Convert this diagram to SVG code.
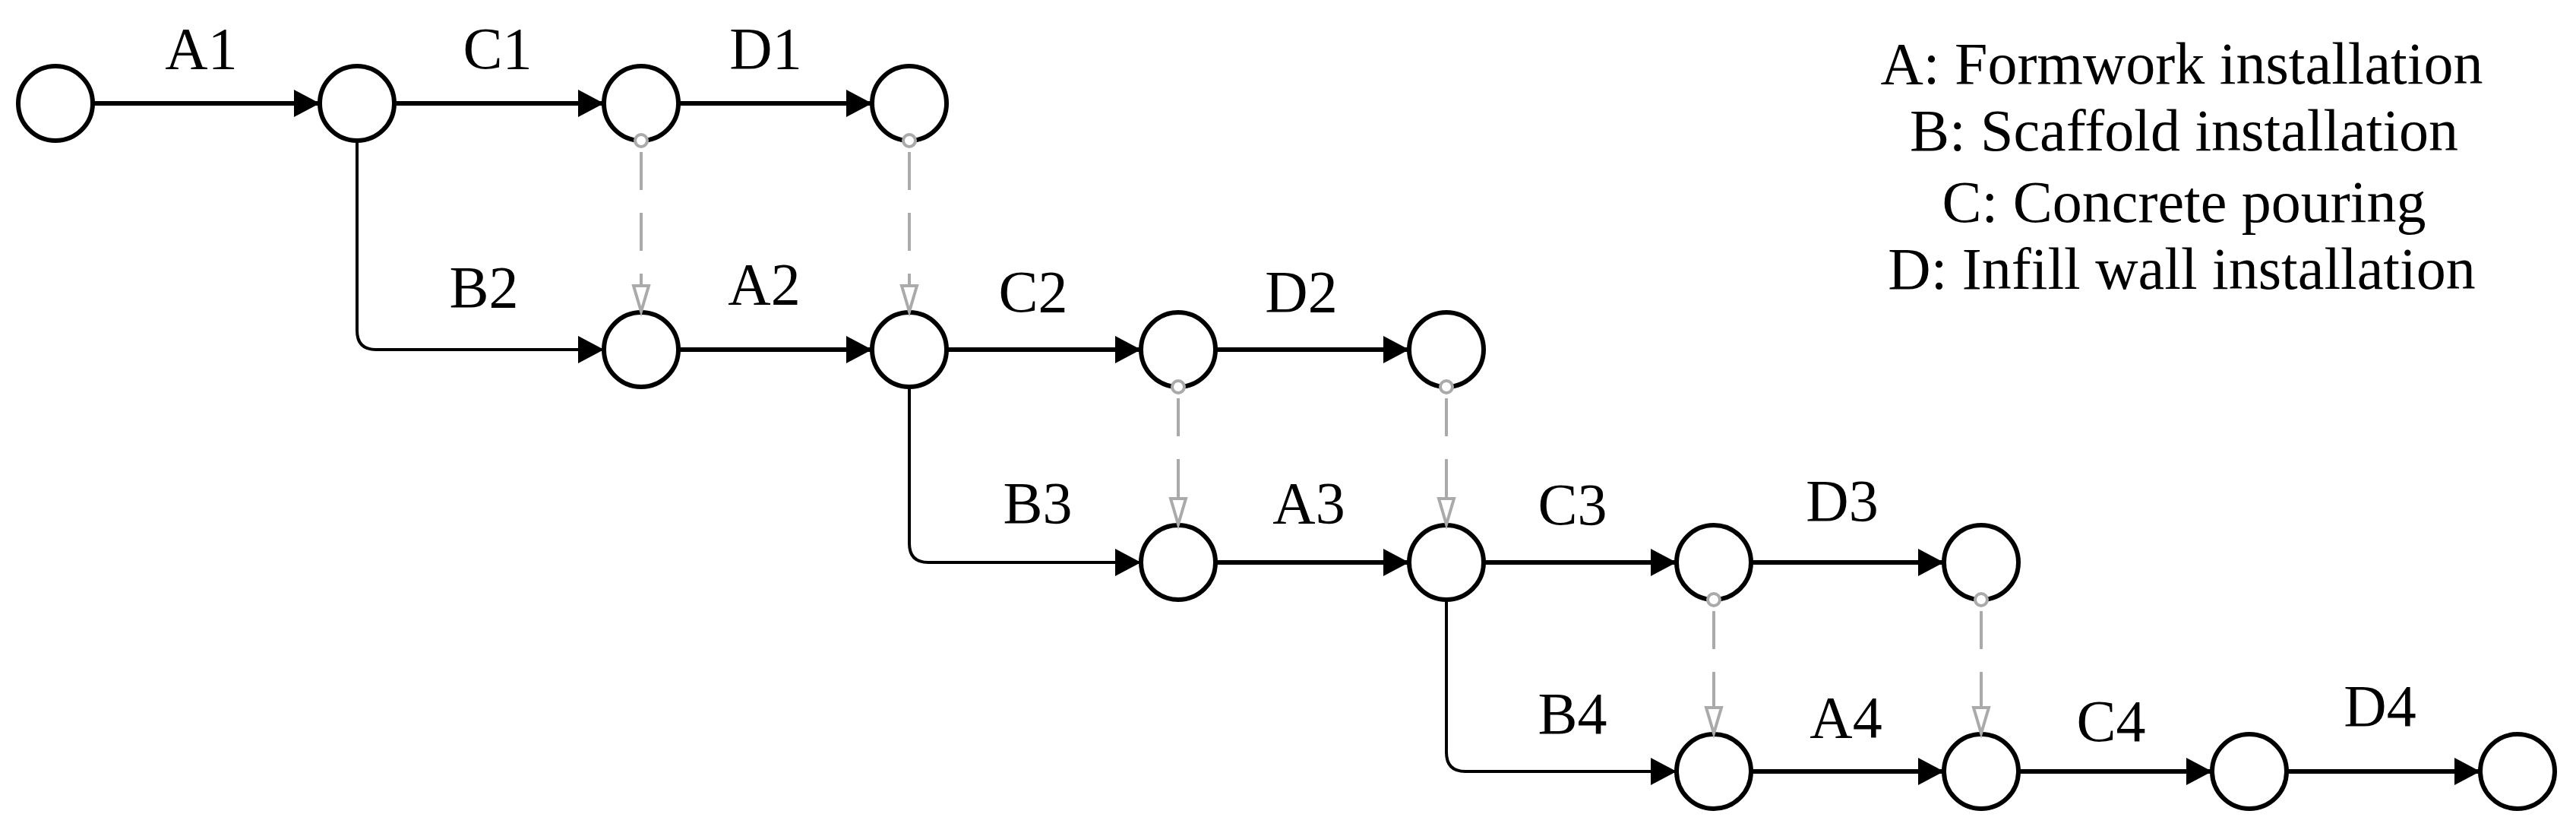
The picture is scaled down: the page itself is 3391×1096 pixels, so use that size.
<svg xmlns="http://www.w3.org/2000/svg" width="3391" height="1096" viewBox="0 0 3391 1096">
<style>
.n{fill:#fff;stroke:#000;stroke-width:6}
.e{stroke:#000;stroke-width:6;fill:none}
.b{stroke:#000;stroke-width:4;fill:none}
.d{stroke:#aaa;stroke-width:4;fill:none;stroke-dasharray:50,30}
.dc{fill:#fff;stroke:#aaa;stroke-width:4}
.dt{fill:#fff;stroke:#aaa;stroke-width:4}
text{font-family:"Liberation Serif","Times New Roman",serif;font-size:78px;fill:#000;text-anchor:middle}
</style>
<defs>
<marker id="ah" markerUnits="userSpaceOnUse" markerWidth="40" markerHeight="40" refX="34" refY="18" orient="auto"><path d="M0,0 L34,18 L0,36 Z" fill="#000"/></marker>
</defs>
<g id="connectors">
<line class="e" x1="122" y1="136" x2="421" y2="136" marker-end="url(#ah)"/>
<line class="e" x1="519" y1="136" x2="795" y2="136" marker-end="url(#ah)"/>
<line class="e" x1="893" y1="136" x2="1148" y2="136" marker-end="url(#ah)"/>
<path class="b" d="M470,185 V435 Q470,460 495,460 H795" marker-end="url(#ah)"/>
<line class="e" x1="893" y1="460" x2="1148" y2="460" marker-end="url(#ah)"/>
<line class="e" x1="1246" y1="460" x2="1502" y2="460" marker-end="url(#ah)"/>
<line class="e" x1="1600" y1="460" x2="1855" y2="460" marker-end="url(#ah)"/>
<path class="b" d="M1197,509 V715 Q1197,740 1222,740 H1502" marker-end="url(#ah)"/>
<line class="e" x1="1600" y1="740" x2="1855" y2="740" marker-end="url(#ah)"/>
<line class="e" x1="1953" y1="740" x2="2207" y2="740" marker-end="url(#ah)"/>
<line class="e" x1="2305" y1="740" x2="2559" y2="740" marker-end="url(#ah)"/>
<path class="b" d="M1904,789 V990 Q1904,1015 1929,1015 H2207" marker-end="url(#ah)"/>
<line class="e" x1="2305" y1="1015" x2="2559" y2="1015" marker-end="url(#ah)"/>
<line class="e" x1="2657" y1="1015" x2="2912" y2="1015" marker-end="url(#ah)"/>
<line class="e" x1="3010" y1="1015" x2="3265" y2="1015" marker-end="url(#ah)"/>
</g>
<g id="nodes">
<circle id="n1" class="n" cx="73" cy="136" r="49"/>
<circle id="n2" class="n" cx="470" cy="136" r="49"/>
<circle id="n3" class="n" cx="844" cy="136" r="49"/>
<circle id="n4" class="n" cx="1197" cy="136" r="49"/>
<circle id="n5" class="n" cx="844" cy="460" r="49"/>
<circle id="n6" class="n" cx="1197" cy="460" r="49"/>
<circle id="n7" class="n" cx="1551" cy="460" r="49"/>
<circle id="n8" class="n" cx="1904" cy="460" r="49"/>
<circle id="n9" class="n" cx="1551" cy="740" r="49"/>
<circle id="n10" class="n" cx="1904" cy="740" r="49"/>
<circle id="n11" class="n" cx="2256" cy="740" r="49"/>
<circle id="n12" class="n" cx="2608" cy="740" r="49"/>
<circle id="n13" class="n" cx="2256" cy="1015" r="49"/>
<circle id="n14" class="n" cx="2608" cy="1015" r="49"/>
<circle id="n15" class="n" cx="2961" cy="1015" r="49"/>
<circle id="n16" class="n" cx="3314" cy="1015" r="49"/>
</g>
<g id="dashed">
<g id="dd1"><line class="d" x1="844" y1="200" x2="844" y2="376"/><circle class="dc" cx="844" cy="185" r="8"/><path class="dt" d="M834,376 L854,376 L844,410 Z"/></g>
<g id="dd2"><line class="d" x1="1197" y1="200" x2="1197" y2="376"/><circle class="dc" cx="1197" cy="185" r="8"/><path class="dt" d="M1187,376 L1207,376 L1197,410 Z"/></g>
<g id="dd3"><line class="d" x1="1551" y1="524" x2="1551" y2="656"/><circle class="dc" cx="1551" cy="509" r="8"/><path class="dt" d="M1541,656 L1561,656 L1551,690 Z"/></g>
<g id="dd4"><line class="d" x1="1904" y1="524" x2="1904" y2="656"/><circle class="dc" cx="1904" cy="509" r="8"/><path class="dt" d="M1894,656 L1914,656 L1904,690 Z"/></g>
<g id="dd5"><line class="d" x1="2256" y1="804" x2="2256" y2="931"/><circle class="dc" cx="2256" cy="789" r="8"/><path class="dt" d="M2246,931 L2266,931 L2256,965 Z"/></g>
<g id="dd6"><line class="d" x1="2608" y1="804" x2="2608" y2="931"/><circle class="dc" cx="2608" cy="789" r="8"/><path class="dt" d="M2598,931 L2618,931 L2608,965 Z"/></g>
</g>
<g id="labels">
<text x="265" y="90">A1</text>
<text x="655" y="90">C1</text>
<text x="1008" y="90">D1</text>
<text x="637" y="404">B2</text>
<text x="1006" y="400">A2</text>
<text x="1360" y="410">C2</text>
<text x="1713" y="410">D2</text>
<text x="1366" y="688">B3</text>
<text x="1723" y="688">A3</text>
<text x="2070" y="690">C3</text>
<text x="2425" y="685">D3</text>
<text x="2070" y="965">B4</text>
<text x="2430" y="970">A4</text>
<text x="2779" y="975">C4</text>
<text x="3133" y="955">D4</text>
</g>
<g id="legend">
<text x="2872" y="110">A: Formwork installation</text>
<text x="2875" y="198">B: Scaffold installation</text>
<text x="2875" y="292">C: Concrete pouring</text>
<text x="2872" y="380">D: Infill wall installation</text>
</g>
</svg>
